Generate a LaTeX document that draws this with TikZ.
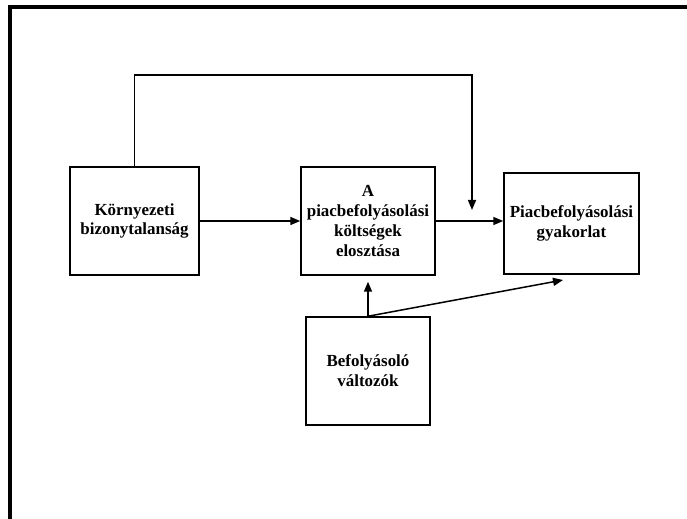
\documentclass[tikz,border=0pt]{standalone}
\usepackage{fontspec}
\setmainfont{Liberation Serif}
\usetikzlibrary{arrows.meta}
\tikzset{
  doboz/.style={draw, line width=1.5bp, align=center, inner sep=0pt,
    font=\bfseries\fontsize{17}{20}\selectfont},
  nyil/.style={line width=1.5bp, -{Triangle[length=10bp,width=8bp]}}
}
\begin{document}
\begin{tikzpicture}[x=1bp, y=1bp]  %1 egyseg = 1 pixel
	\useasboundingbox (0,0) rectangle (687,519);
					%Keret
	\draw[line width=4bp] (9.5,0) -- (9.5,512) -- (687,512); %Bal es felso szel
					%Dobozok
	\node[doboz, minimum width=129bp, minimum height=108bp] (korny) at (134.5,298) {Környezeti\\bizonytalanság};
	\node[doboz, minimum width=134bp, minimum height=108bp] (kolts) at (368,298) {A\\piacbefolyásolási\\költségek\\elosztása};
	\node[doboz, minimum width=135bp, minimum height=101bp] (gyak) at (571.5,295.5) {Piacbefolyásolási\\gyakorlat};
	\node[doboz, minimum width=124bp, minimum height=108bp] (valt) at (368,148) {Befolyásoló\\változók};
	\coordinate (hurok) at (472,309); %Felso nyil vege
	\coordinate (ferde) at (563,239); %Ferde nyil vege
					%Nyilak
	\draw[nyil] (korny.east) -- (kolts.west);
	\draw[nyil] (kolts.east) -- (kolts.east -| gyak.west);
	\draw[nyil] (korny.north) -- ++(0,91) -| (hurok); %Felso kerulo ut
	\draw[nyil, shorten >=6bp] (valt.north) -- (kolts.south);
	\draw[nyil] (valt.north) -- (ferde);
\end{tikzpicture}
\end{document}
